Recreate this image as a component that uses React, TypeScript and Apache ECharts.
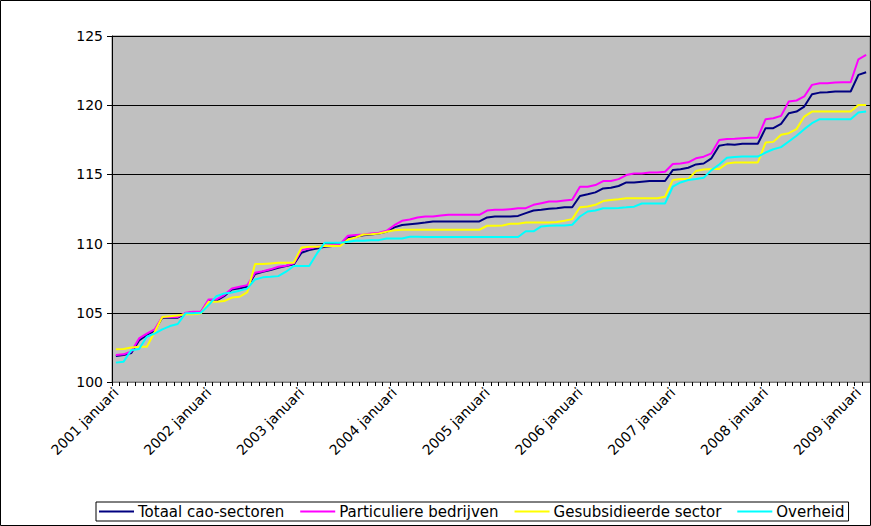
import React, { useEffect, useRef } from "react";
import * as echarts from "echarts";

const years = ["2001", "2002", "2003", "2004", "2005", "2006", "2007", "2008", "2009"];
const monthNames = ["januari", "februari", "maart", "april", "mei", "juni", "juli", "augustus", "september", "oktober", "november", "december"];
const monthCount = 98;
const categories: string[] = [];
for (const y of years) for (const m of monthNames) if (categories.length < monthCount) categories.push(y + " " + m);

const seriesNames = ["Totaal cao-sectoren", "Particuliere bedrijven", "Gesubsidieerde sector", "Overheid"];
const seriesColors = ["#000080", "#FF00FF", "#FFFF00", "#00FFFF"];

const totaal = [
  101.88, 101.95, 102.1, 103.0, 103.4, 103.7, 104.65, 104.65, 104.65, 104.95, 105.05, 105.05,
  105.87, 105.87, 106.2, 106.68, 106.77, 106.88, 107.8, 107.97, 108.09, 108.25, 108.38, 108.5,
  109.34, 109.53, 109.65, 109.77, 109.82, 109.9, 110.45, 110.5, 110.6, 110.66, 110.73, 110.85,
  111.17, 111.34, 111.4, 111.46, 111.52, 111.6, 111.6, 111.6, 111.6, 111.6, 111.6, 111.6,
  111.89, 111.96, 111.96, 111.96, 112.0, 112.2, 112.39, 112.44, 112.51, 112.56, 112.63, 112.63,
  113.44, 113.56, 113.7, 113.99, 114.03, 114.16, 114.42, 114.42, 114.47, 114.52, 114.52, 114.52,
  115.31, 115.38, 115.48, 115.72, 115.79, 116.16, 117.07, 117.17, 117.15, 117.21, 117.21, 117.21,
  118.34, 118.34, 118.65, 119.42, 119.54, 119.9, 120.79, 120.91, 120.93, 120.99, 120.99, 120.99,
  122.19, 122.38,
];
const particulier = [
  101.95, 102.0, 102.2, 103.15, 103.5, 103.8, 104.7, 104.7, 104.7, 105.0, 105.08, 105.08,
  105.97, 105.97, 106.28, 106.76, 106.88, 107.0, 107.9, 108.0, 108.14, 108.33, 108.4, 108.57,
  109.53, 109.65, 109.77, 109.82, 109.9, 109.96, 110.57, 110.62, 110.66, 110.73, 110.78, 110.93,
  111.33, 111.65, 111.74, 111.89, 111.96, 111.96, 112.03, 112.08, 112.08, 112.08, 112.08, 112.08,
  112.39, 112.44, 112.44, 112.49, 112.56, 112.56, 112.8, 112.92, 113.04, 113.04, 113.11, 113.16,
  114.11, 114.11, 114.23, 114.52, 114.52, 114.66, 114.95, 115.07, 115.07, 115.14, 115.14, 115.19,
  115.75, 115.79, 115.87, 116.16, 116.28, 116.52, 117.48, 117.55, 117.58, 117.62, 117.65, 117.67,
  118.99, 119.06, 119.23, 120.26, 120.34, 120.63, 121.47, 121.59, 121.59, 121.64, 121.66, 121.66,
  123.32, 123.63,
];
const gesubsidieerd = [
  102.36, 102.38, 102.5, 102.55, 102.55, 103.6, 104.7, 104.75, 104.8, 104.89, 104.9, 104.96,
  105.8, 105.8, 105.85, 106.1, 106.16, 106.5, 108.52, 108.52, 108.57, 108.62, 108.62, 108.62,
  109.72, 109.77, 109.77, 109.82, 109.84, 109.82, 110.3, 110.45, 110.66, 110.68, 110.73, 110.85,
  110.97, 111.0, 111.0, 111.0, 111.0, 111.0, 111.0, 111.0, 111.0, 111.0, 111.0, 111.0,
  111.29, 111.29, 111.31, 111.44, 111.44, 111.53, 111.53, 111.53, 111.53, 111.56, 111.65, 111.77,
  112.63, 112.68, 112.8, 113.07, 113.15, 113.2, 113.27, 113.27, 113.27, 113.27, 113.27, 113.39,
  114.59, 114.66, 114.66, 115.24, 115.36, 115.39, 115.39, 115.79, 115.86, 115.86, 115.86, 115.86,
  117.3, 117.35, 117.86, 117.98, 118.27, 119.18, 119.54, 119.54, 119.54, 119.54, 119.54, 119.54,
  120.02, 120.02,
];
const overheid = [
  101.4, 101.47, 102.3, 102.38, 103.27, 103.5, 103.8, 104.04, 104.19, 104.96, 104.96, 105.0,
  105.56, 106.2, 106.4, 106.47, 106.6, 106.76, 107.41, 107.56, 107.6, 107.65, 107.97, 108.38,
  108.38, 108.38, 109.29, 110.06, 110.06, 110.06, 110.13, 110.2, 110.2, 110.25, 110.25, 110.37,
  110.37, 110.37, 110.5, 110.5, 110.48, 110.48, 110.48, 110.48, 110.48, 110.48, 110.48, 110.48,
  110.48, 110.48, 110.48, 110.48, 110.48, 110.89, 110.89, 111.24, 111.29, 111.31, 111.31, 111.36,
  111.96, 112.32, 112.39, 112.55, 112.55, 112.58, 112.62, 112.67, 112.9, 112.9, 112.9, 112.9,
  114.11, 114.42, 114.59, 114.66, 114.76, 115.31, 115.72, 116.2, 116.25, 116.29, 116.29, 116.29,
  116.58, 116.82, 116.97, 117.38, 117.79, 118.27, 118.7, 118.99, 118.99, 118.99, 118.99, 118.99,
  119.47, 119.54,
];
const seriesValues = [totaal, particulier, gesubsidieerd, overheid];

const FONT = "DejaVu Sans";

export default function App() {
  const ref = useRef<HTMLDivElement>(null);
  useEffect(() => {
    if (!ref.current) return;
    const chart = echarts.init(ref.current, null, { renderer: "svg" });
    chart.setOption({
      animation: false,
      backgroundColor: "#ffffff",
      textStyle: { fontFamily: FONT },
      graphic: [
        {
          type: "rect",
          shape: { x: 0.5, y: 0.5, width: 870, height: 525 },
          style: { fill: "none", stroke: "#000000", lineWidth: 1 },
          z: 100,
        },
      ],
      grid: {
        left: 112,
        top: 36,
        right: 1,
        bottom: 144,
        show: true,
        backgroundColor: "#C0C0C0",
        borderColor: "#808080",
        borderWidth: 1,
      },
      legend: {
        data: seriesNames,
        left: 96,
        top: 502,
        orient: "horizontal",
        icon: "rect",
        itemWidth: 35,
        itemHeight: 2,
        itemGap: 16,
        padding: [2, 4, 2, 3],
        borderColor: "#000000",
        borderWidth: 1,
        borderRadius: 0,
        textStyle: { fontFamily: FONT, fontSize: 15, color: "#000000", padding: [0, 0, 0, -1] },
      },
      xAxis: {
        type: "category",
        data: categories,
        boundaryGap: true,
        axisLine: { show: true, lineStyle: { color: "#808080", width: 1 } },
        axisTick: { show: true, interval: 0, length: 4, lineStyle: { color: "#000000" } },
        axisLabel: {
          interval: 11,
          rotate: 45,
          margin: 8,
          fontFamily: FONT,
          fontSize: 14,
          color: "#000000",
        },
        splitLine: { show: false },
      },
      yAxis: {
        type: "value",
        min: 100,
        max: 125,
        interval: 5,
        axisLine: { show: true, lineStyle: { color: "#000000", width: 1 } },
        axisTick: { show: true, length: 5, lineStyle: { color: "#000000" } },
        axisLabel: { margin: 9, fontFamily: FONT, fontSize: 14, color: "#000000" },
        splitLine: { show: true, lineStyle: { color: "#000000", width: 1 } },
      },
      series: seriesNames.map((name, k) => ({
        name,
        type: "line",
        data: seriesValues[k],
        showSymbol: false,
        symbol: "none",
        lineStyle: { color: seriesColors[k], width: 2 },
        itemStyle: { color: seriesColors[k] },
        emphasis: { disabled: true },
      })),
    });
    return () => chart.dispose();
  }, []);
  return (
    <div
      ref={ref}
      style={{ position: "fixed", left: 0, top: 0, width: 871, height: 526 }}
    />
  );
}
